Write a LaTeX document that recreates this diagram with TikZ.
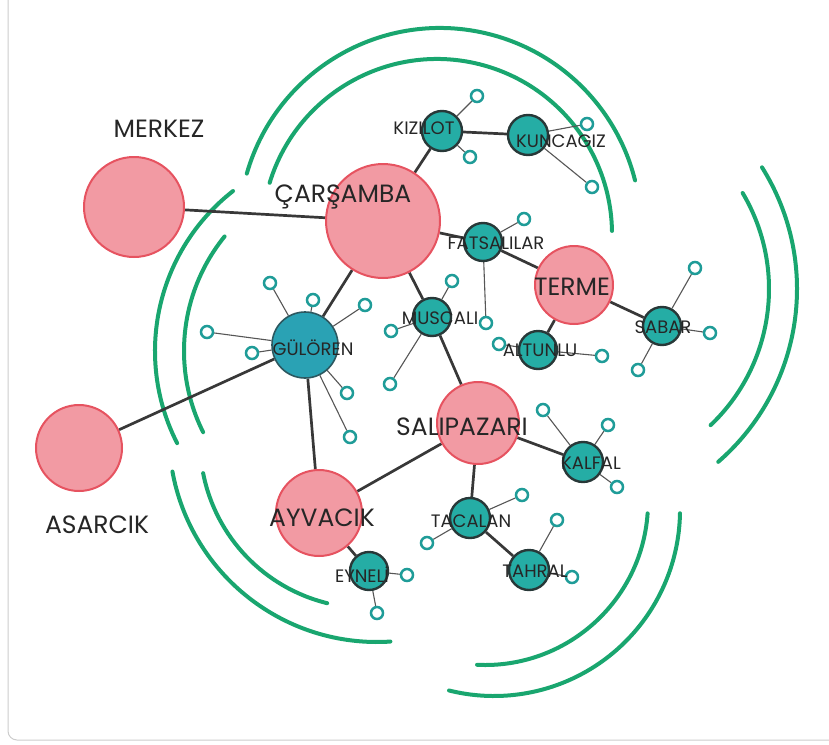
\documentclass[tikz,border=0pt]{standalone}
\usepackage{fontspec}
\setmainfont{Poppins}
\usepackage{xcolor}
\usetikzlibrary{positioning,backgrounds}

\definecolor{townred}{HTML}{E65360}
\definecolor{townfill}{HTML}{F29AA3}
\definecolor{villfill}{HTML}{25ADA5}
\definecolor{villedge}{HTML}{283838}
\definecolor{hubfill}{HTML}{2AA2B4}
\definecolor{hubedge}{HTML}{2C5860}
\definecolor{leafteal}{HTML}{1F9C98}
\definecolor{ringgreen}{HTML}{19A66F}
\definecolor{roadgray}{HTML}{383838}

\begin{document}
\begin{tikzpicture}[x=1pt, y=-1pt,
  town/.style={circle, draw=townred, line width=2pt, fill=townfill, inner sep=0pt},
  village/.style={circle, draw=villedge, line width=2.4pt, fill=villfill,
                  minimum size=38pt, inner sep=0pt},
  hub/.style={circle, draw=hubedge, line width=1.6pt, fill=hubfill,
              minimum size=66pt, inner sep=0pt},
  leaf/.style={circle, draw=leafteal, line width=2.5pt, fill=white,
               minimum size=12pt, inner sep=0pt},
  bigname/.style={inner sep=0pt, text=black!85, font=\fontsize{25}{25}\selectfont},
  smallname/.style={inner sep=0pt, text=black!85, font=\fontsize{18}{18}\selectfont},
  road/.style={draw=roadgray, line width=2.7pt},
  spur/.style={draw=roadgray!85, line width=1.1pt},
  ring/.style={draw=ringgreen, line width=4pt, line cap=round},
]
\useasboundingbox (0,0) rectangle (829,744);

% Frame
\draw[gray!40, line width=1pt, rounded corners=9pt] (8,-10) -- (8,740) -- (840,740);

% Towns
\node[town, minimum size=100pt] (merkez)     at (134,207) {};
\node[town, minimum size=114pt] (carsamba)   at (383,221) {};
\node[town, minimum size=78pt]  (terme)      at (574,285) {};
\node[town, minimum size=82pt]  (salipazari) at (478,423) {};
\node[town, minimum size=86pt]  (ayvacik)    at (319,513) {};
\node[town, minimum size=86pt]  (asarcik)    at (79,448)  {};

% Villages
\node[hub] (guloren) at (305,345) {};
\node[village, minimum size=40pt] (kizilot)  at (442,131) {};
\node[village, minimum size=40pt] (kuncagiz) at (528,135) {};
\node[village] (fatsalilar) at (483,242) {};
\node[village] (muscali)    at (432,317) {};
\node[village] (altunlu)    at (538,350) {};
\node[village] (sabar)      at (662,326) {};
\node[village, minimum size=40pt] (kalfal)  at (583,462) {};
\node[village, minimum size=40pt] (tacalan) at (470,518) {};
\node[village, minimum size=40pt] (tahral)  at (529,570) {};
\node[village] (eyneli)     at (369,571) {};

% Hamlets
\node[leaf] (kz1) at (477,96)  {};
\node[leaf] (kz2) at (470,157) {};
\node[leaf] (ku1) at (587,124) {};
\node[leaf] (ku2) at (592,187) {};
\node[leaf] (fa1) at (524,219) {};
\node[leaf] (fa2) at (486,323) {};
\node[leaf] (mu1) at (452,281) {};
\node[leaf] (mu2) at (391,331) {};
\node[leaf] (mu3) at (390,384) {};
\node[leaf] (al1) at (499,344) {};
\node[leaf] (al2) at (602,356) {};
\node[leaf] (sa1) at (695,268) {};
\node[leaf] (sa2) at (710,333) {};
\node[leaf] (sa3) at (638,370) {};
\node[leaf] (gu1) at (270,283) {};
\node[leaf] (gu2) at (313,300) {};
\node[leaf] (gu3) at (365,305) {};
\node[leaf] (gu4) at (207,332) {};
\node[leaf] (gu5) at (252,353) {};
\node[leaf] (gu6) at (347,393) {};
\node[leaf] (gu7) at (350,437) {};
\node[leaf] (ka1) at (543,410) {};
\node[leaf] (ka2) at (608,425) {};
\node[leaf] (ka3) at (617,487) {};
\node[leaf] (ta1) at (522,495) {};
\node[leaf] (ta2) at (427,543) {};
\node[leaf] (th1) at (557,520) {};
\node[leaf] (th2) at (572,577) {};
\node[leaf] (ey1) at (407,575) {};
\node[leaf] (ey2) at (377,613) {};

% Names
\node[bigname] (merkezL)     at (159,129) {MERKEZ};
\node[bigname] (carsambaL)   at (343,197) {ÇARŞAMBA};
\node[bigname] (termeL)      at (572,287) {TERME};
\node[bigname] (salipazariL) at (462,427) {SALIPAZARI};
\node[bigname] (ayvacikL)    at (322,518) {AYVACIK};
\node[bigname] (asarcikL)    at (97,525)  {ASARCIK};
\node[smallname] (kizilotL)    at (424,128) {KIZILOT};
\node[smallname] (kuncagizL)   at (561,141) {KUNCAGIZ};
\node[smallname] (fatsalilarL) at (496,243) {FATSALILAR};
\node[smallname] (muscaliL)    at (440,318) {MUSCALI};
\node[smallname] (gulorenL)    at (313,348) {GÜLÖREN};
\node[smallname] (altunluL)    at (540,350) {ALTUNLU};
\node[smallname] (sabarL)      at (663,327) {SABAR};
\node[smallname] (kalfalL)     at (591,463) {KALFAL};
\node[smallname] (tacalanL)    at (471,521) {TACALAN};
\node[smallname] (tahralL)     at (535,571) {TAHRAL};
\node[smallname] (eyneliL)     at (362,575) {EYNELİ};

\begin{scope}[on background layer]
% Rings
\draw[ring] (440,229) ++(-164:201) arc[start angle=-164, end angle=-14, radius=201];
\draw[ring] (437,234) ++(-163:175) arc[start angle=-163, end angle=-1, radius=175];
\draw[ring] (358,351) ++(232:203) arc[start angle=232, end angle=153, radius=203];
\draw[ring] (366,351) ++(219:182) arc[start angle=219, end angle=153.5, radius=182];
\draw[ring] (377,434) ++(169.6:208) arc[start angle=169.6, end angle=86.3, radius=208];
\draw[ring] (367,441) ++(168.9:167) arc[start angle=168.9, end angle=103.8, radius=167];
\draw[ring] (581,289) ++(-30.7:188) arc[start angle=-30.7, end angle=46.4, radius=188];
\draw[ring] (568,289) ++(-32.1:229) arc[start angle=-32.1, end angle=49, radius=229];
\draw[ring] (485,502) ++(4:163) arc[start angle=4, end angle=92.8, radius=163];
\draw[ring] (494,510) ++(1:186) arc[start angle=1, end angle=104, radius=186];

% Roads
\draw[road] (merkez) -- (carsamba);
\draw[road] (carsamba) -- (kizilot);
\draw[road] (kizilot) -- (kuncagiz);
\draw[road] (carsamba) -- (fatsalilar);
\draw[road] (fatsalilar) -- (terme);
\draw[road] (terme) -- (sabar);
\draw[road] (terme) -- (altunlu);
\draw[road] (carsamba) -- (guloren);
\draw[road] (carsamba) -- (muscali);
\draw[road] (muscali) -- (salipazari);
\draw[road] (guloren) -- (asarcik);
\draw[road] (guloren) -- (ayvacik);
\draw[road] (ayvacik) -- (salipazari);
\draw[road] (salipazari) -- (kalfal);
\draw[road] (salipazari) -- (tacalan);
\draw[road] (tacalan) -- (tahral);
\draw[road] (ayvacik) -- (eyneli);

% Spurs
\draw[spur] (kizilot) -- (kz1);
\draw[spur] (kizilot) -- (kz2);
\draw[spur] (kuncagiz) -- (ku1);
\draw[spur] (kuncagiz) -- (ku2);
\draw[spur] (fatsalilar) -- (fa1);
\draw[spur] (fatsalilar) -- (fa2);
\draw[spur] (muscali) -- (mu1);
\draw[spur] (muscali) -- (mu2);
\draw[spur] (muscali) -- (mu3);
\draw[spur] (altunlu) -- (al1);
\draw[spur] (altunlu) -- (al2);
\draw[spur] (sabar) -- (sa1);
\draw[spur] (sabar) -- (sa2);
\draw[spur] (sabar) -- (sa3);
\draw[spur] (guloren) -- (gu1);
\draw[spur] (guloren) -- (gu2);
\draw[spur] (guloren) -- (gu3);
\draw[spur] (guloren) -- (gu4);
\draw[spur] (guloren) -- (gu5);
\draw[spur] (guloren) -- (gu6);
\draw[spur] (guloren) -- (gu7);
\draw[spur] (kalfal) -- (ka1);
\draw[spur] (kalfal) -- (ka2);
\draw[spur] (kalfal) -- (ka3);
\draw[spur] (tacalan) -- (ta1);
\draw[spur] (tacalan) -- (ta2);
\draw[spur] (tahral) -- (th1);
\draw[spur] (tahral) -- (th2);
\draw[spur] (eyneli) -- (ey1);
\draw[spur] (eyneli) -- (ey2);
\end{scope}

\end{tikzpicture}
\end{document}
